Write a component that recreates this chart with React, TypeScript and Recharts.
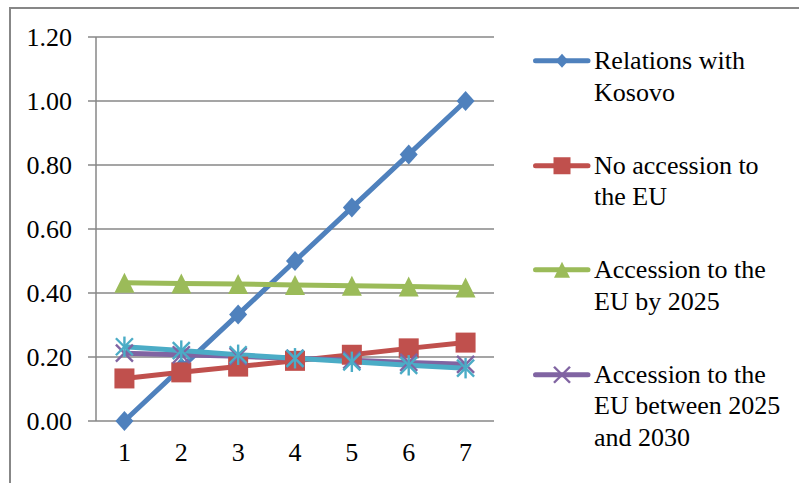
import React from 'react';
import { LineChart, Line, XAxis, YAxis, CartesianGrid, Legend } from 'recharts';

const categories = [1, 2, 3, 4, 5, 6, 7];
const relationsKosovo = [0, 0.167, 0.333, 0.5, 0.667, 0.833, 1.0];
const noAccession = [0.133, 0.152, 0.17, 0.188, 0.207, 0.227, 0.245];
const accessionBy2025 = [0.432, 0.43, 0.428, 0.425, 0.423, 0.42, 0.417];
const accession2025to2030 = [0.212, 0.207, 0.202, 0.196, 0.19, 0.183, 0.177];
const accessionAfter2030 = [0.232, 0.22, 0.207, 0.196, 0.185, 0.174, 0.165];

const yTicks = [0, 0.2, 0.4, 0.6, 0.8, 1.0, 1.2];
const boundaryTicks = [0.5, 1.5, 2.5, 3.5, 4.5, 5.5, 6.5, 7.5];

const seriesNames = [
  'Relations with Kosovo',
  'No accession to the EU',
  'Accession to the EU by 2025',
  'Accession to the EU between 2025 and 2030',
  'Accession to the EU after 2030',
];
const legendLines = [
  ['Relations with', 'Kosovo'],
  ['No accession to', 'the EU'],
  ['Accession to the', 'EU by 2025'],
  ['Accession to the', 'EU between 2025', 'and 2030'],
];
const colors = ['#4F81BD', '#C0504D', '#9BBB59', '#8064A2', '#4BACC6'];
const markers = ['diamond', 'square', 'triangle', 'x', 'star'];
const keys = ['s0', 's1', 's2', 's3', 's4'];
const seriesValues = [relationsKosovo, noAccession, accessionBy2025, accession2025to2030, accessionAfter2030];

const data = categories.map((c, i) => {
  const row: any = { x: c };
  keys.forEach((k, j) => (row[k] = seriesValues[j][i]));
  return row;
});

const FONT = '"Liberation Serif", "Times New Roman", "DejaVu Serif", serif';
const GRID = '#878787';

function Marker({ type, cx, cy, color, s }: any) {
  if (cx == null || cy == null) return null;
  if (type === 'diamond') {
    return <polygon points={`${cx},${cy - s} ${cx + s * 0.9},${cy} ${cx},${cy + s} ${cx - s * 0.9},${cy}`} fill={color} />;
  }
  if (type === 'square') {
    return <rect x={cx - s} y={cy - s} width={2 * s} height={2 * s} fill={color} />;
  }
  if (type === 'triangle') {
    return <polygon points={`${cx},${cy - s} ${cx + s},${cy + s} ${cx - s},${cy + s}`} fill={color} />;
  }
  if (type === 'x') {
    return (
      <g stroke={color} strokeWidth={2.4}>
        <line x1={cx - s} y1={cy - s} x2={cx + s} y2={cy + s} />
        <line x1={cx - s} y1={cy + s} x2={cx + s} y2={cy - s} />
      </g>
    );
  }
  return (
    <g stroke={color} strokeWidth={2.4}>
      <line x1={cx - s} y1={cy - s} x2={cx + s} y2={cy + s} />
      <line x1={cx - s} y1={cy + s} x2={cx + s} y2={cy - s} />
      <line x1={cx} y1={cy - s * 1.2} x2={cx} y2={cy + s * 1.2} />
    </g>
  );
}

const plotSizes = [10, 10, 10, 8.5, 8.5];
const legendSizes = [7, 8.5, 8, 8];

function renderLegend() {
  return (
    <div style={{ fontFamily: FONT, fontSize: 26, color: '#000' }}>
      {legendLines.map((lines, i) => (
        <div key={seriesNames[i]} style={{ display: 'flex', alignItems: 'flex-start', marginBottom: 41.5 }}>
          <svg width={61} height={31.5} style={{ flex: 'none' }}>
            <line x1={2.5} y1={15.75} x2={55} y2={15.75} stroke={colors[i]} strokeWidth={5} strokeLinecap="round" />
            <Marker type={markers[i]} cx={29} cy={15.75} color={colors[i]} s={legendSizes[i]} />
          </svg>
          <div style={{ lineHeight: '31.5px', whiteSpace: 'nowrap' }}>
            {lines.map((l) => (
              <div key={l}>{l}</div>
            ))}
          </div>
        </div>
      ))}
    </div>
  );
}

export default function App() {
  return (
    <div style={{ position: 'fixed', left: 0, top: 0, width: 799, height: 483, overflow: 'hidden', background: '#fff' }}>
      <div
        style={{
          position: 'absolute',
          left: 9,
          top: 6.5,
          width: 820,
          height: 500,
          borderLeft: `2px solid ${GRID}`,
          borderTop: `2px solid ${GRID}`,
        }}
      />
      <div style={{ position: 'absolute', left: 0, top: 0 }}>
        <LineChart width={799} height={483} data={data} margin={{ top: 37, right: 305, bottom: 0, left: 0 }}>
          <CartesianGrid xAxisId="l" yAxisId="y" vertical={false} stroke={GRID} strokeWidth={1.5} />
          <XAxis
            xAxisId="b"
            type="number"
            dataKey="x"
            domain={[0.5, 7.5]}
            ticks={boundaryTicks}
            tick={false}
            tickSize={8}
            height={0}
            axisLine={{ stroke: GRID, strokeWidth: 1.5 }}
            tickLine={{ stroke: GRID, strokeWidth: 1.5 }}
          />
          <XAxis
            xAxisId="l"
            type="number"
            dataKey="x"
            domain={[0.5, 7.5]}
            ticks={categories}
            tickLine={false}
            axisLine={false}
            tickSize={0}
            tickMargin={22}
            height={62}
            tick={{ fontSize: 26, fill: '#000', fontFamily: FONT }}
          />
          <YAxis
            yAxisId="y"
            type="number"
            domain={[0, 1.2]}
            ticks={yTicks}
            width={96}
            tickSize={8}
            tickMargin={16}
            tickFormatter={(v: number) => v.toFixed(2)}
            axisLine={{ stroke: GRID, strokeWidth: 1.5 }}
            tickLine={{ stroke: GRID, strokeWidth: 1.5 }}
            tick={{ fontSize: 26, fill: '#000', fontFamily: FONT }}
          />
          <Legend
            layout="vertical"
            align="center"
            verticalAlign="middle"
            content={renderLegend}
            wrapperStyle={{ left: 533, top: 45, width: 266 }}
          />
          {keys.map((k, i) => (
            <Line
              key={k}
              xAxisId="l"
              yAxisId="y"
              dataKey={k}
              name={seriesNames[i]}
              stroke={colors[i]}
              strokeWidth={5}
              type="linear"
              isAnimationActive={false}
              legendType={i === 4 ? 'none' : 'line'}
              activeDot={false}
              dot={(p: any) => (
                <Marker key={`${k}-${p.index}`} type={markers[i]} cx={p.cx} cy={p.cy} color={colors[i]} s={plotSizes[i]} />
              )}
            />
          ))}
        </LineChart>
      </div>
    </div>
  );
}
